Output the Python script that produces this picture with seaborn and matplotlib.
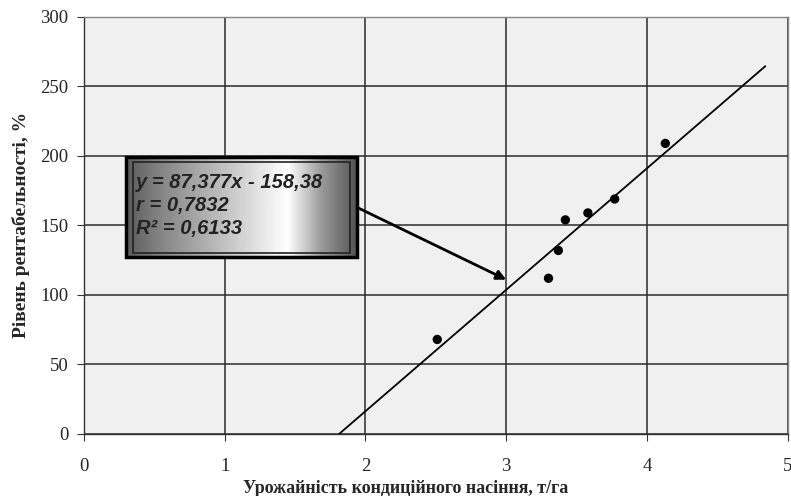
import numpy as np
import pandas as pd
import seaborn as sns
import matplotlib.pyplot as plt
from matplotlib.patches import Rectangle

# --- data ---
yield_t_ha = [2.51, 3.30, 3.37, 3.42, 3.58, 3.77, 4.13]
profit_pct = [68, 112, 132, 154, 159, 169, 209]
slope, intercept = 87.377, -158.38
trend_x = [1.813, 4.84]
eq_lines = ["y = 87,377x - 158,38", "r = 0,7832", "R² = 0,6133"]

df = pd.DataFrame({"x": yield_t_ha, "y": profit_pct})
trend = pd.DataFrame({"x": trend_x})
trend["y"] = slope * trend["x"] + intercept

sns.set_style("white")
plt.rcParams["font.family"] = ["Liberation Serif", "DejaVu Serif"]

fig = plt.figure(figsize=(7.91, 4.96), dpi=100)
ax = fig.add_axes([0.106, 0.125, 0.89, 0.841])
ax.set_facecolor("#f0f0f0")

sns.lineplot(data=trend, x="x", y="y", ax=ax, color="black", linewidth=1.3, zorder=3)
sns.scatterplot(data=df, x="x", y="y", ax=ax, color="black", s=45, edgecolor="none", zorder=4)

ax.set_xlim(0, 5)
ax.set_ylim(0, 300)
ax.set_xticks(range(0, 6))
ax.set_yticks(range(0, 301, 50))
ax.grid(True, color="#2a2a2a", linewidth=1.1)
ax.set_axisbelow(True)
for sp in ax.spines.values():
    sp.set_color("#888888")
    sp.set_linewidth(1.0)
ax.spines["left"].set_color("#333333")
ax.spines["bottom"].set_color("#333333")
ax.tick_params(axis="both", which="major", labelsize=13.5, length=5, direction="out",
               color="#333333", bottom=True, left=True)
ax.tick_params(axis="x", pad=12)
ax.tick_params(axis="y", pad=6)

ax.set_xlabel("Урожайність кондиційного насіння, т/га", fontsize=13, fontweight="bold")
ax.xaxis.set_label_coords(0.457, -0.11)
ax.set_ylabel("Рівень рентабельності, %", fontsize=14, fontweight="bold")
ax.yaxis.set_label_coords(-0.077, 0.5)

# --- equation box with grey gradient ---
bx0, bx1, by0, by1 = 0.30, 1.94, 127, 199
g = np.linspace(0, 1, 256)
shade = np.interp(g, [0, 0.15, 0.7, 0.85, 1.0], [0.36, 0.52, 1.0, 0.6, 0.33])
ax.imshow(np.tile(shade, (2, 1)), cmap="gray", vmin=0, vmax=1, aspect="auto",
          extent=[bx0, bx1, by0, by1], zorder=5, interpolation="bilinear")
ax.add_patch(Rectangle((bx0, by0), bx1 - bx0, by1 - by0, fill=False,
                       edgecolor="black", linewidth=2.5, zorder=6))
ax.add_patch(Rectangle((bx0 + 0.05, by0 + 3.5), bx1 - bx0 - 0.10, by1 - by0 - 7, fill=False,
                       edgecolor="#222222", linewidth=1.2, zorder=6))
for i, line in enumerate(eq_lines):
    ax.text(bx0 + 0.07, 181 - i * 16.5, line, fontsize=14.5, fontweight="bold",
            fontstyle="italic", family=["Liberation Sans", "DejaVu Sans"],
            color="#222222", va="center", ha="left", zorder=7)

ax.annotate("", xy=(3.0, 111), xytext=(bx1, 163),
            arrowprops=dict(arrowstyle="-|>", color="black", lw=2.0,
                            mutation_scale=14, shrinkA=0, shrinkB=0), zorder=6)

fig.savefig("out.png", dpi=100)
